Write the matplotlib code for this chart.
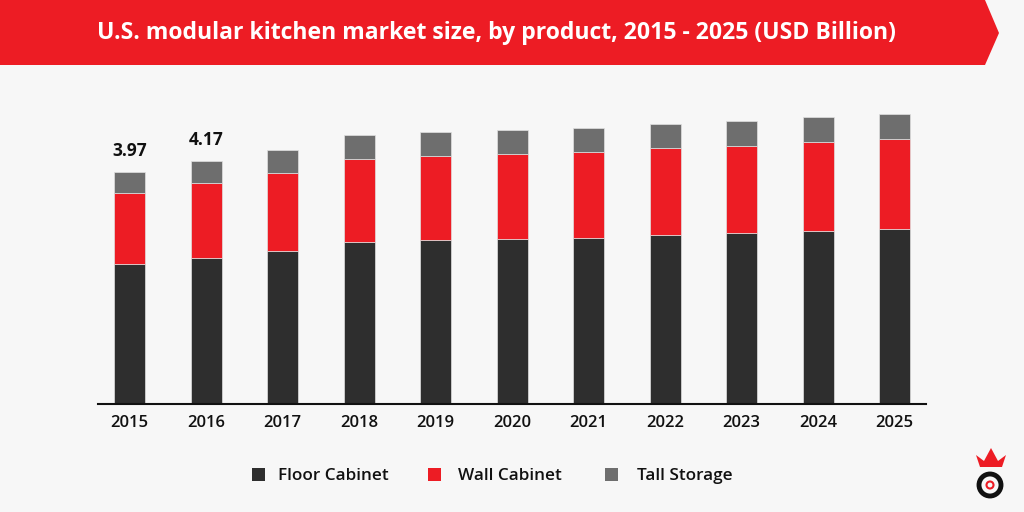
import matplotlib
matplotlib.use("Agg")
import matplotlib.pyplot as plt
from matplotlib.patches import Polygon, Ellipse, Rectangle
import numpy as np

YEARS = ["2015", "2016", "2017", "2018", "2019", "2020",
         "2021", "2022", "2023", "2024", "2025"]
FLOOR_CABINET = [2.40, 2.51, 2.63, 2.78, 2.82, 2.835, 2.86, 2.90, 2.93, 2.97, 3.01]
WALL_CABINET = [1.225, 1.29, 1.345, 1.43, 1.44, 1.465, 1.47, 1.495, 1.505, 1.525, 1.535]
TALL_STORAGE = [0.355, 0.37, 0.39, 0.405, 0.41, 0.41, 0.42, 0.42, 0.425, 0.435, 0.44]
LABELED = {0: "3.97", 1: "4.17"}

SERIES = ["Floor Cabinet", "Wall Cabinet", "Tall Storage"]
COLORS = ["#2e2e2e", "#ed1c24", "#6e6e6e"]
BG = "#f7f7f7"
FONT = "Open Sans"


def main():
    '''
    Stacked bar chart of the U.S. modular kitchen market.
    '''
    fig = plt.figure(figsize=(10.24, 5.12), dpi=100, facecolor=BG)

    # red title banner with arrow tip on the right
    W, H = 1024, 512
    banner = Polygon([(0, 1), (985 / W, 1), (999 / W, 1 - 33 / H),
                      (985 / W, 1 - 65 / H), (0, 1 - 65 / H)],
                     closed=True, transform=fig.transFigure,
                     facecolor="#ed1c24", edgecolor="none")
    fig.patches.append(banner)
    fig.text(496 / W, 1 - 33 / H,
             "U.S. modular kitchen market size, by product, 2015 - 2025 (USD Billion)",
             color="white", fontsize=16.6, fontweight="bold", family=FONT,
             ha="center", va="center")

    ax = fig.add_axes([98 / W, 1 - 404 / H, 828 / W, 314 / H])
    ax.set_facecolor(BG)

    x = np.arange(len(YEARS))
    width = 0.405
    bottom = np.zeros(len(YEARS))
    for values, color in zip([FLOOR_CABINET, WALL_CABINET, TALL_STORAGE], COLORS):
        ax.bar(x, values, width, bottom=bottom, color=color,
               edgecolor="#e0e0e0", linewidth=0.5)
        bottom += np.array(values)

    for i, text in LABELED.items():
        ax.text(x[i], bottom[i] + 0.22, text, ha="center", va="bottom",
                fontsize=12.5, fontweight="bold", family=FONT, color="#111111")

    ax.set_xlim(-0.412, 10.41)
    ax.set_ylim(0, 314 / 58.2)
    ax.set_xticks(x)
    ax.set_xticklabels(YEARS, fontsize=12, fontweight="semibold", family=FONT,
                       color="#111111")
    ax.tick_params(axis="x", length=0, pad=8)
    ax.set_yticks([])
    for side in ["top", "right", "left"]:
        ax.spines[side].set_visible(False)
    ax.spines["bottom"].set_linewidth(1.5)
    ax.spines["bottom"].set_color("#111111")

    # legend drawn by hand to keep the wide spacing
    squares = [252, 428, 605]
    labels_x = [278, 458, 637]
    for sx, tx, name, color in zip(squares, labels_x, SERIES, COLORS):
        fig.patches.append(Rectangle((sx / W, 1 - 481 / H), 13 / W, 13 / H,
                                     transform=fig.transFigure,
                                     facecolor=color, edgecolor="none"))
        fig.text(tx / W, 1 - 476 / H, name, fontsize=12.3, family=FONT,
                 fontweight="semibold", color="#111111", va="center", ha="left")

    # small logo in the corner
    fig.patches.append(Ellipse((990 / W, 1 - 485 / H), 22 / W, 22 / H,
                               transform=fig.transFigure, facecolor="none",
                               edgecolor="#111111", linewidth=3.5))
    fig.patches.append(Ellipse((990 / W, 1 - 485 / H), 7 / W, 7 / H,
                               transform=fig.transFigure, facecolor="none",
                               edgecolor="#ed1c24", linewidth=1.5))
    crown = [(976, 455), (980, 467), (1002, 467), (1006, 455), (998, 461),
             (991, 448), (984, 461)]
    fig.patches.append(Polygon([(px / W, 1 - py / H) for px, py in crown],
                               closed=True, transform=fig.transFigure,
                               facecolor="#ed1c24", edgecolor="none"))

    fig.savefig("out.png", dpi=100, facecolor=BG)


if __name__ == "__main__":
    main()
